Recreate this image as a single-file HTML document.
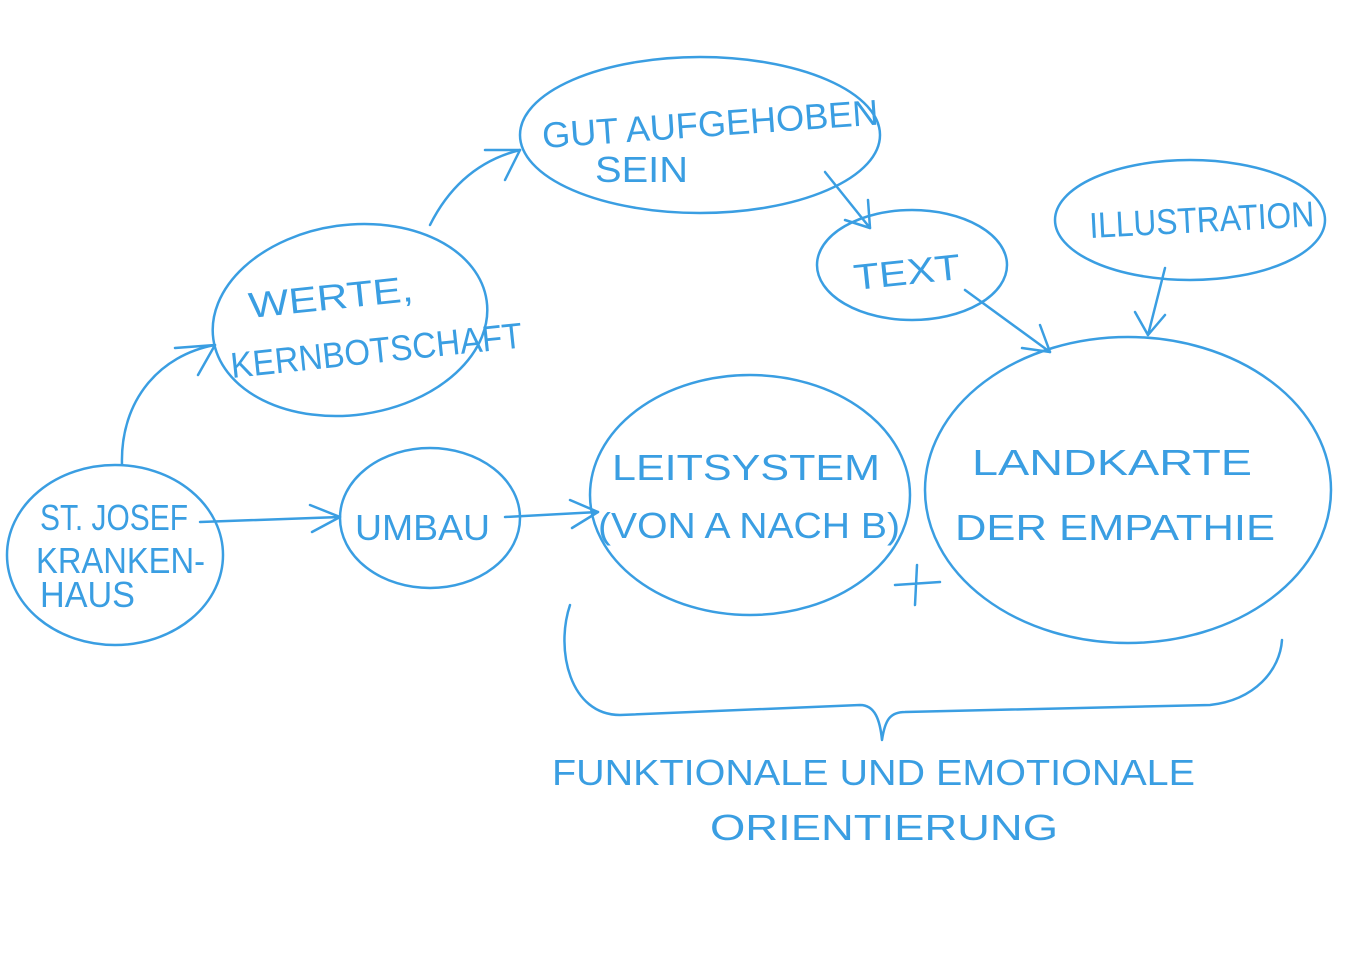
<!DOCTYPE html>
<html><head><meta charset="utf-8"><style>
html,body{margin:0;padding:0;background:#fff;}
svg{display:block;}
text{font-family:"Liberation Sans",sans-serif;fill:#3a9ee2;font-size:36px;}
</style></head><body>
<svg width="1350" height="954" viewBox="0 0 1350 954" xmlns="http://www.w3.org/2000/svg">
<g fill="none" stroke="#3a9ee2" stroke-width="2.5" stroke-linecap="round" stroke-linejoin="round">
<ellipse cx="115" cy="555" rx="108" ry="90"/>
<ellipse cx="350" cy="320" rx="138" ry="95" transform="rotate(-8 350 320)"/>
<ellipse cx="700" cy="135" rx="180" ry="78"/>
<ellipse cx="430" cy="518" rx="90" ry="70"/>
<ellipse cx="750" cy="495" rx="160" ry="120"/>
<ellipse cx="912" cy="265" rx="95" ry="55"/>
<ellipse cx="1190" cy="220" rx="135" ry="60"/>
<ellipse cx="1128" cy="490" rx="203" ry="153"/>
<path d="M122 465 C120 400 160 355 215 345"/><path d="M175 348 L215 345 L198 375"/>
<path d="M430 225 C450 185 480 160 520 150"/><path d="M485 150 L520 150 L505 180"/>
<path d="M200 522 L340 517"/><path d="M310 505 L340 517 L312 532"/>
<path d="M505 517 L598 512"/><path d="M570 500 L598 512 L572 528"/>
<path d="M825 172 L870 228"/><path d="M868 200 L870 228 L845 220"/>
<path d="M965 290 L1050 352"/><path d="M1022 348 L1050 352 L1040 325"/>
<path d="M1165 268 L1148 335"/><path d="M1135 312 L1148 335 L1165 315"/>
<path d="M895 585 L940 582 M917 565 L915 605"/>
<path d="M570 605 C555 650 570 715 620 715 L860 705 C875 705 880 720 882 740 C885 720 890 712 905 712 L1210 705 C1255 700 1280 670 1282 640"/>
</g>
<g lengthAdjust="spacingAndGlyphs">
<text x="40" y="530" font-size="32" textLength="148" lengthAdjust="spacingAndGlyphs">ST. JOSEF</text>
<text x="36" y="573" font-size="32" textLength="169" lengthAdjust="spacingAndGlyphs">KRANKEN-</text>
<text x="40" y="607" font-size="32" textLength="95" lengthAdjust="spacingAndGlyphs">HAUS</text>
<text x="250" y="318" transform="rotate(-6 250 318)" textLength="165" lengthAdjust="spacingAndGlyphs">WERTE,</text>
<text x="232" y="378" transform="rotate(-6 232 378)" textLength="293" lengthAdjust="spacingAndGlyphs">KERNBOTSCHAFT</text>
<text x="543" y="148" transform="rotate(-4 543 148)" textLength="337" lengthAdjust="spacingAndGlyphs">GUT AUFGEHOBEN</text>
<text x="595" y="182" textLength="93" lengthAdjust="spacingAndGlyphs">SEIN</text>
<text x="855" y="290" font-size="44" transform="rotate(-6 855 290)" textLength="107" lengthAdjust="spacingAndGlyphs">TEXT</text>
<text x="1090" y="238" font-size="32" transform="rotate(-3 1090 238)" textLength="225" lengthAdjust="spacingAndGlyphs">ILLUSTRATION</text>
<text x="355" y="540" font-size="42" textLength="135" lengthAdjust="spacingAndGlyphs">UMBAU</text>
<text x="612" y="480" font-size="40" textLength="268" lengthAdjust="spacingAndGlyphs">LEITSYSTEM</text>
<text x="598" y="538" font-size="34" textLength="302" lengthAdjust="spacingAndGlyphs">(VON A NACH B)</text>
<text x="972" y="475" font-size="44" textLength="280" lengthAdjust="spacingAndGlyphs">LANDKARTE</text>
<text x="955" y="540" font-size="44" textLength="320" lengthAdjust="spacingAndGlyphs">DER EMPATHIE</text>
<text x="552" y="785" font-size="36" textLength="643" lengthAdjust="spacingAndGlyphs">FUNKTIONALE UND EMOTIONALE</text>
<text x="710" y="840" font-size="36" textLength="348" lengthAdjust="spacingAndGlyphs">ORIENTIERUNG</text>
</g>
</svg>
</body></html>
